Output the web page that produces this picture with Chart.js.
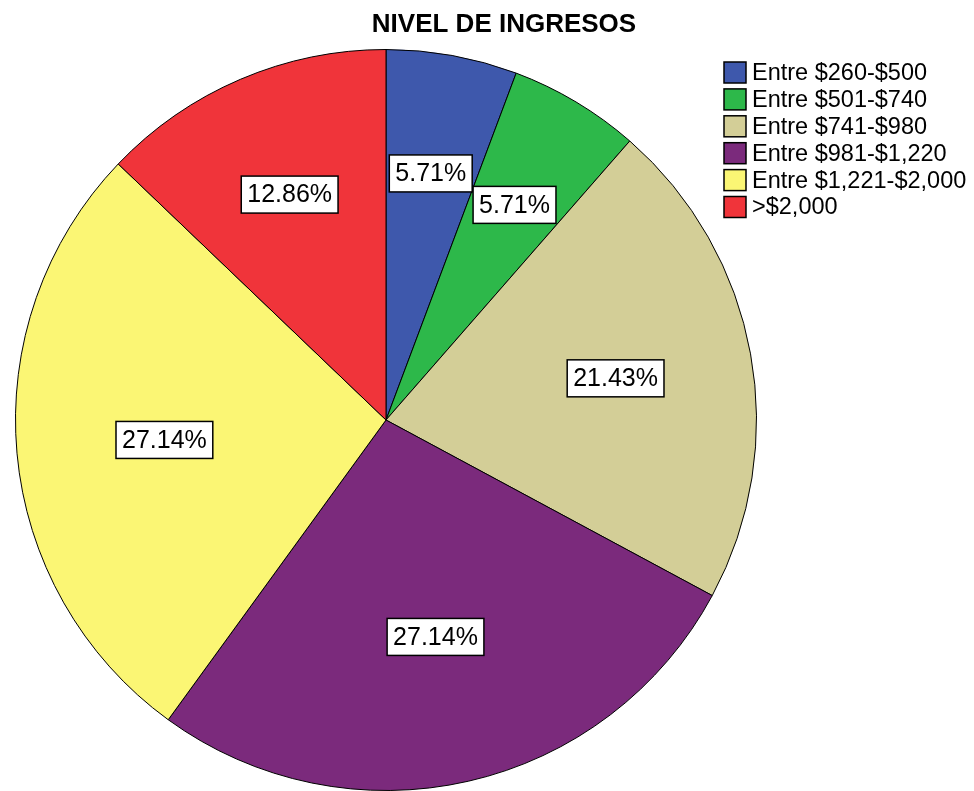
<!DOCTYPE html>
<html>
<head>
<meta charset="utf-8">
<title>NIVEL DE INGRESOS</title>
<script src="https://cdn.jsdelivr.net/npm/chart.js@4"></script>
<style>
  html, body { margin: 0; padding: 0; background: #fff; }
  #wrap { width: 974px; height: 791px; }
</style>
</head>
<body>
<div id="wrap"><canvas id="graficoIngresos" width="974" height="791"></canvas></div>
<script>
const titulo = 'NIVEL DE INGRESOS';

const categorias = [
  'Entre $260-$500',
  'Entre $501-$740',
  'Entre $741-$980',
  'Entre $981-$1,220',
  'Entre $1,221-$2,000',
  '>$2,000'
];

// frecuencias (n = 70)
const frecuencias = [4, 4, 15, 19, 19, 9];

const colores = ['#3e58ac', '#2db84a', '#d3ce97', '#7b2a7c', '#fbf674', '#f0343a'];

const total = frecuencias.reduce((a, b) => a + b, 0);
const porcentajes = frecuencias.map(v => (v / total * 100).toFixed(2) + '%');

const fuente = '"Liberation Sans", Arial, sans-serif';

// etiquetas de porcentaje en cajas blancas, en el centroide de cada sector
const etiquetasPlugin = {
  id: 'etiquetas',
  afterDatasetsDraw(chart) {
    const ctx = chart.ctx;
    const meta = chart.getDatasetMeta(0);
    ctx.save();
    ctx.font = '25px ' + fuente;
    ctx.textAlign = 'center';
    ctx.textBaseline = 'middle';
    meta.data.forEach((arc, i) => {
      const p = arc.getProps(['x', 'y', 'startAngle', 'endAngle', 'outerRadius'], true);
      const mid = (p.startAngle + p.endAngle) / 2;
      const a = (p.endAngle - p.startAngle) / 2;
      const r = p.outerRadius * (2 * Math.sin(a) / (3 * a)) * 1.02;
      const cx = p.x + Math.cos(mid) * r;
      const cy = p.y + Math.sin(mid) * r;
      const texto = porcentajes[i];
      const w = ctx.measureText(texto).width + 12;
      const h = 37;
      ctx.fillStyle = '#fff';
      ctx.fillRect(cx - w / 2, cy - h / 2, w, h);
      ctx.strokeStyle = '#000';
      ctx.lineWidth = 1.5;
      ctx.strokeRect(cx - w / 2, cy - h / 2, w, h);
      ctx.fillStyle = '#000';
      ctx.fillText(texto, cx, cy + 1);
    });
    ctx.restore();
  }
};

// titulo y leyenda a la derecha
const leyendaPlugin = {
  id: 'leyenda',
  afterDraw(chart) {
    const ctx = chart.ctx;
    ctx.save();
    ctx.fillStyle = '#000';
    ctx.textAlign = 'center';
    ctx.textBaseline = 'middle';
    ctx.font = 'bold 26px ' + fuente;
    ctx.fillText(titulo, 504, 25);

    ctx.font = '23.5px ' + fuente;
    ctx.textAlign = 'left';
    chart.data.labels.forEach((lab, i) => {
      const y = 62 + i * 26.9;
      ctx.fillStyle = colores[i];
      ctx.fillRect(724, y, 22, 21);
      ctx.strokeStyle = '#000';
      ctx.lineWidth = 1.5;
      ctx.strokeRect(724, y, 22, 21);
      ctx.fillStyle = '#000';
      ctx.fillText(lab, 752, y + 11.5);
    });
    ctx.restore();
  }
};

const ctx = document.getElementById('graficoIngresos').getContext('2d');

new Chart(ctx, {
  type: 'pie',
  data: {
    labels: categorias,
    datasets: [{
      data: frecuencias,
      backgroundColor: colores,
      borderColor: '#000',
      borderWidth: 1
    }]
  },
  options: {
    responsive: false,
    animation: false,
    devicePixelRatio: 1,
    layout: {
      padding: { top: 49, bottom: 0, left: 15, right: 217 }
    },
    plugins: {
      legend: { display: false },
      title: { display: false },
      tooltip: { enabled: true }
    }
  },
  plugins: [etiquetasPlugin, leyendaPlugin]
});
</script>
</body>
</html>
